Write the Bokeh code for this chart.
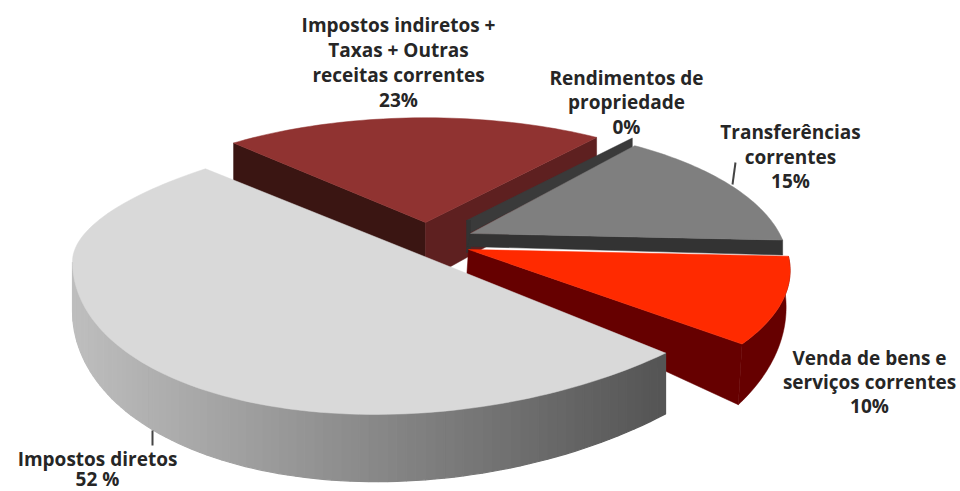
import math
from bokeh.plotting import figure
from bokeh.core.properties import value
from bokeh.embed import file_html
from bokeh.resources import INLINE

# ---- data ----
slice_names = ["Impostos indiretos + Taxas + Outras receitas correntes",
               "Rendimentos de propriedade", "Transferências correntes",
               "Venda de bens e serviços correntes", "Impostos diretos"]
shares = [23, 0, 15, 10, 52]
label_lines = [["Impostos indiretos +", "Taxas + Outras", "receitas correntes", "23%"],
               ["Rendimentos de", "propriedade", "0%"],
               ["Transferências", "correntes", "15%"],
               ["Venda de bens e", "serviços correntes", "10%"],
               ["Impostos diretos", "52 %"]]

# ---- layout and style ----
W, H = 960, 491
START = -134.0
angles = [START]
for s in shares:
    angles.append(angles[-1] + s * 3.6)
A = {n: (angles[i], angles[i + 1]) for i, n in enumerate(["maroon", "dark", "gray", "red", "big"])}

p = figure(width=W, height=H, x_range=(0, W), y_range=(H, 0), toolbar_location=None,
           output_backend="svg", min_border=0, outline_line_color=None,
           background_fill_color="white", border_fill_color="white")
p.axis.visible = False
p.grid.visible = False


def rim(apex, R, q, persp, deg):
    t = math.radians(deg)
    s = 1 / (1 - persp * math.sin(t))
    return apex[0] + R * math.cos(t) * s, apex[1] + q * R * math.sin(t) * s


def arc(apex, R, q, persp, a0, a1, n=50):
    return [rim(apex, R, q, persp, a0 + (a1 - a0) * i / n) for i in range(n + 1)]


def poly(points, color, lw=0.5):
    p.patch([c[0] for c in points], [c[1] for c in points], fill_color=color,
            line_color=color, line_width=lw)


# Maroon wedge
a0, a1 = A["maroon"]
ap = (425, 222)
rl, rr = rim(ap, 322, .40, .23, a0), rim(ap, 322, .40, .23, a1)
poly([ap, rl, (rl[0], rl[1] + 39), (ap[0], ap[1] + 40)], "#3a1512")
poly([ap, rr, (rr[0], rr[1] + 48), (ap[0], ap[1] + 58)], "#5e2020")
poly([ap] + arc(ap, 322, .40, .23, a0, a1), "#903331")

# Zero-share slice: only its cut face shows
d0 = A["dark"][0]
ap = (466, 220)
rd = rim(ap, 312, .40, .23, d0)
poly([ap, rd, (rd[0], rd[1] + 10), (ap[0] + 4, ap[1] + 12)], "#3a3a3a")

# Gray wedge
g0, g1 = A["gray"]
ap = (470, 233)
rg = rim(ap, 309, .43, .23, g1)
poly([(466, 220), (470, 220), (470, 252), (466, 252)], "#333333")
poly([ap, rg, (rg[0], rg[1] + 15), (ap[0] - 3, ap[1] + 13)], "#333333")
poly([ap] + arc(ap, 309, .43, .23, g0, g1), "#7f7f7f")

# Red wedge
r0, r1 = A["red"]
ap = (468, 249)
ab = (466, 279)
top = arc(ap, 318, .43, .15, r0, r1)
bot = arc(ab, 316, .573, .15, r0, r1)
poly([ap, top[-1], bot[-1], ab], "#660000")
poly(top + bot[::-1], "#660000")
poly([ap] + top, "#ff2a00")

# Big wedge, screen-fitted rim with different near and far curvature
b0, b1 = A["big"]
SWEEP = 178.0 / (b1 - b0)
B_START = 52.3
CX, AX = 440, 368


def big_top(t):
    c, s = math.cos(t), math.sin(t)
    return CX + AX * c, 228 - 33 * c + (183 if s > 0 else 105) * s


def big_bot(t):
    c, s = math.cos(t), math.sin(t)
    return CX + AX * c, 274 - 36 * c + 204 * s


n = 120
ts = [math.radians(B_START + (b1 - b0) * SWEEP * i / n) for i in range(n + 1)]
side = [t for t in ts if t <= math.pi + 1e-6]
for t0, t1 in zip(side[:-1], side[1:]):
    xm = big_top((t0 + t1) / 2)[0]
    f = (xm - 72) / (665 - 72)
    g = int(round(190 - f * (190 - 84)))
    poly([big_top(t0), big_top(t1), big_bot(t1), big_bot(t0)], f"#{g:02x}{g:02x}{g:02x}", 1.2)
poly([big_top(t) for t in ts], "#d9d9d9")

# Leader lines
p.line([735, 732], [162, 184], line_color="#444444", line_width=2)
p.line([152, 152], [430, 445], line_color="#444444", line_width=2)

# Labels
label_pos = [(398, [24, 49, 74, 99]), (626, [77, 101, 126]), (790, [131, 156, 180]),
             (869, [357, 381, 405]), (97, [458, 478])]
xs, ys, txt = [], [], []
for lines, (x, yy) in zip(label_lines, label_pos):
    for line, y in zip(lines, yy):
        xs.append(x); ys.append(y); txt.append(line)
p.text(xs, ys, text=txt, text_font=value("Open Sans"), text_font_style="bold",
       text_font_size="19px", text_color="#262626", text_align="center",
       text_baseline="middle")

open("out.html", "w").write(file_html(p, INLINE))
